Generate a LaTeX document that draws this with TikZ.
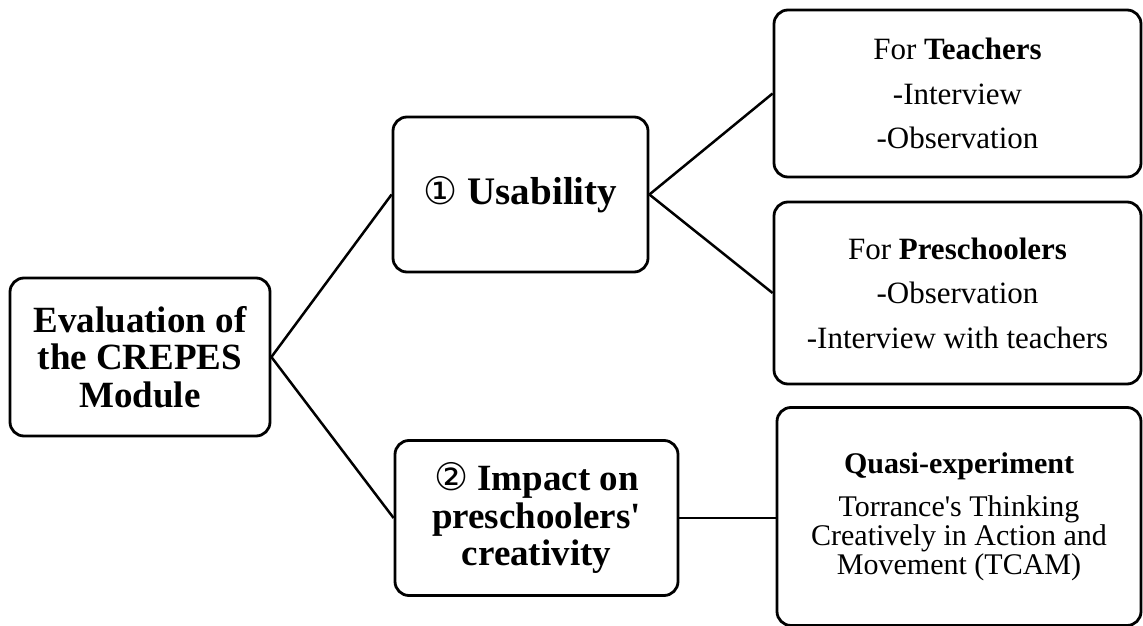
\documentclass[tikz,border=0pt]{standalone}
\usepackage{fontspec}
\setmainfont{Liberation Serif}[Ligatures=TeXOff]
\newfontfamily\circfont{DejaVu Sans}
\newcommand\circnum[1]{{\circfont\mdseries\fontsize{38}{38}\selectfont #1}}
\begin{document}
\begin{tikzpicture}[x=1pt,y=-1pt,
  box/.style={draw, line width=2.8pt, rounded corners=14pt, align=center, inner sep=0pt},
  head/.style={font=\fontsize{37}{37.5}\selectfont\bfseries},
  body/.style={font=\fontsize{31}{44.5}\selectfont},
  link/.style={line width=2.5pt}]
  \useasboundingbox (0,0) rectangle (1143,626);

  % root
  \node[box, head, minimum width=260pt, minimum height=158pt] (eval) at (140,357)
    {Evaluation of\\the CREPES\\Module};

  % second level
  \node[box, minimum width=255pt, minimum height=155pt,
        font=\fontsize{39}{39}\selectfont\bfseries] (usab) at (520.5,194.5)
    {\circnum{①} Usability};
  \node[box, head, minimum width=283pt, minimum height=155pt] (impact) at (536.5,518)
    {\circnum{②} Impact on\\preschoolers'\\creativity};

  % third level
  \node[box, body, minimum width=367pt, minimum height=167pt] (teach) at (957.5,93.5)
    {For \textbf{Teachers}\\-Interview\\-Observation};
  \node[box, body, minimum width=367pt, minimum height=182pt] (presch) at (957.5,293)
    {For \textbf{Preschoolers}\\-Observation\\-Interview with teachers};
  \node[box, minimum width=364pt, minimum height=218pt,
        font=\fontsize{30}{29}\selectfont] (quasi) at (959,516.5)
    {\textbf{Quasi-experiment}\\[14pt]Torrance's Thinking\\Creatively in Action and\\Movement (TCAM)};

  % connectors
  \draw[link] (eval.east) -- (usab.west);
  \draw[link] (eval.east) -- (impact.west);
  \draw[link] (usab.east) -- (teach.west);
  \draw[link] (usab.east) -- (presch.west);
  \draw[link] (impact.east) -- (impact.east -| quasi.west);
\end{tikzpicture}
\end{document}
